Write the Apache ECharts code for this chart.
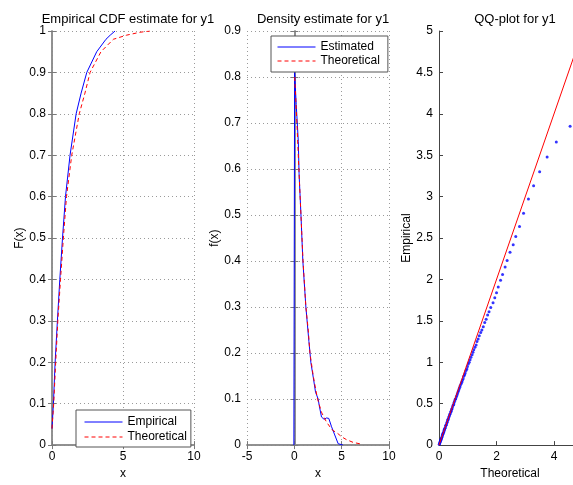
<!DOCTYPE html>
<html><head><meta charset="utf-8">
<script src="https://cdn.jsdelivr.net/npm/echarts@6/dist/echarts.min.js"></script>
<style>html,body{margin:0;padding:0;background:#fff}#c{width:573px;height:485px}</style>
</head><body><div id="c"></div>
<script>
// ---- Data ----
const cdfEmpX = [0.0, 0.1, 0.22, 0.38, 0.55, 0.74, 0.95, 1.27, 1.7, 2.05, 2.45, 3.15, 3.8, 4.1, 4.44];
const cdfEmpY = [0.04, 0.1, 0.2, 0.3, 0.4, 0.5, 0.6, 0.7, 0.8, 0.85, 0.9, 0.95, 0.98, 0.99, 1.0];
const cdfTheoX = [0.0, 0.12, 0.26, 0.41, 0.6, 0.8, 1.02, 1.39, 1.92, 2.32, 2.68, 3.45, 4.32, 5.26, 6.2, 6.9];
const cdfTheoY = [0.04, 0.1, 0.2, 0.3, 0.4, 0.5, 0.6, 0.7, 0.8, 0.85, 0.9, 0.95, 0.98, 0.99, 0.997, 1.0];

const denEstX = [-0.05, 0.03, 0.2, 0.42, 0.5, 0.7, 0.9, 1.22, 1.54, 1.75, 2.0, 2.24, 2.52, 2.63, 2.87, 3.15, 3.4, 3.64, 3.93, 4.27, 4.63, 5.15];
const denEstY = [0.0, 0.81, 0.74, 0.66, 0.59, 0.5, 0.4, 0.3, 0.225, 0.179, 0.147, 0.115, 0.1, 0.086, 0.061, 0.056, 0.059, 0.058, 0.04, 0.022, 0.003, 0.0];
const denTheoX = [0.04, 0.27, 0.48, 0.7, 0.92, 1.22, 1.47, 1.65, 2.0, 2.45, 2.9, 3.4, 4.0, 4.6, 5.0, 5.5, 6.2, 7.1];
const denTheoY = [0.8, 0.7, 0.6, 0.5, 0.4, 0.3, 0.25, 0.2, 0.15, 0.1, 0.07, 0.05, 0.033, 0.025, 0.018, 0.012, 0.006, 0.002];

const qqTheo = [0.01,0.02,0.03,0.04,0.05,0.06,0.07,0.08,0.09,0.11,0.12,0.13,0.14,0.15,0.17,0.18,0.19,0.20,0.22,0.23,
  0.24,0.26,0.27,0.29,0.30,0.31,0.33,0.34,0.36,0.37,0.39,0.41,0.42,0.44,0.45,0.47,0.49,0.51,0.52,0.54,
  0.56,0.58,0.60,0.62,0.64,0.66,0.68,0.70,0.72,0.74,0.77,0.79,0.81,0.84,0.86,0.89,0.91,0.94,0.97,0.99,
  1.02,1.05,1.08,1.11,1.15,1.18,1.21,1.25,1.29,1.32,1.36,1.40,1.45,1.49,1.54,1.59,1.64,1.69,1.74,1.80,
  1.88,1.94,2.00,2.06,2.14,2.21,2.30,2.37,2.47,2.58,2.67,2.80,2.94,3.11,3.29,3.50,3.76,4.08,4.56];
const qqEmp = [0.01,0.02,0.03,0.04,0.05,0.06,0.07,0.08,0.09,0.10,0.12,0.13,0.14,0.15,0.16,0.18,0.19,0.20,0.21,0.23,
  0.24,0.25,0.27,0.28,0.30,0.31,0.32,0.34,0.35,0.37,0.38,0.40,0.41,0.43,0.44,0.46,0.48,0.49,0.51,0.53,
  0.55,0.56,0.58,0.60,0.62,0.64,0.66,0.68,0.70,0.72,0.74,0.76,0.78,0.80,0.83,0.85,0.87,0.90,0.92,0.95,
  0.98,1.00,1.03,1.06,1.09,1.12,1.15,1.18,1.21,1.25,1.28,1.32,1.36,1.39,1.43,1.48,1.52,1.57,1.61,1.66,
  1.72,1.78,1.84,1.91,1.99,2.06,2.15,2.23,2.33,2.42,2.52,2.64,2.80,2.97,3.13,3.30,3.48,3.66,3.85];
const qqRefX = [0, 5];
const qqRefY = [0, 5];

const titles = ['Empirical CDF estimate for y1', 'Density estimate for y1', 'QQ-plot for y1'];

// ---- Chart ----
const zip = (a, b) => a.map((v, i) => [v, b[i]]);
const FONT = '"Liberation Sans", Arial, sans-serif';
const boxLine = { show: true, lineStyle: { color: '#8a8a8a', width: 1.5 } };
const tick = { show: true, inside: true, length: 4, lineStyle: { color: '#7a7a7a' } };
const gridLine = { show: true, lineStyle: { color: '#9a9a9a', type: [1, 3], width: 1 } };
const lbl = { color: '#000', fontSize: 12, fontFamily: FONT };
const nameStyle = { color: '#000', fontSize: 12, fontFamily: FONT };

function xMain(g, min, max, interval, name, split, line, tk) {
  return { type: 'value', gridIndex: g, min, max, interval, position: 'bottom',
    name, nameLocation: 'middle', nameGap: 22,
    nameTextStyle: g === 2 ? Object.assign({ padding: [0, 0, 0, 8] }, nameStyle) : nameStyle,
    axisLine: line, axisTick: tk, axisLabel: Object.assign({ margin: 6, showMaxLabel: g !== 2 }, lbl),
    splitLine: split ? gridLine : { show: false } };
}
function xTop(g, min, max, interval) {
  return { type: 'value', gridIndex: g, min, max, interval, position: 'top',
    axisLine: boxLine, axisTick: tick, axisLabel: { show: false }, splitLine: { show: false } };
}
function yMain(g, min, max, interval, name, gap, split, line, tk) {
  return { type: 'value', gridIndex: g, min, max, interval, position: 'left',
    name, nameLocation: 'middle', nameGap: gap, nameTextStyle: nameStyle,
    axisLine: line, axisTick: tk, axisLabel: Object.assign({ margin: 6 }, lbl),
    splitLine: split ? gridLine : { show: false } };
}
function yRight(g, min, max, interval) {
  return { type: 'value', gridIndex: g, min, max, interval, position: 'right',
    axisLine: boxLine, axisTick: tick, axisLabel: { show: false }, splitLine: { show: false } };
}

const qqLine = { show: true, lineStyle: { color: '#444', width: 1 } };
const qqTick = { show: true, inside: true, length: 4, lineStyle: { color: '#444' } };

const legendBase = {
  orient: 'vertical', backgroundColor: '#fff', borderColor: '#555', borderWidth: 1,
  itemWidth: 38, selectedMode: false,
  itemStyle: { opacity: 0 },
  lineStyle: { width: 1 },
  textStyle: { color: '#000', fontSize: 12, fontFamily: FONT }
};

const option = {
  animation: false,
  backgroundColor: '#fff',
  textStyle: { fontFamily: FONT },
  title: titles.map((t, i) => ({
    text: t, left: [123, 318, 510][i], top: 8, textAlign: 'center',
    textStyle: { color: '#000', fontSize: 13, fontWeight: 'normal', fontFamily: FONT }
  })),
  grid: [
    { left: 52, top: 31, width: 142, height: 421 },
    { left: 247, top: 31, width: 142, height: 421 },
    { left: 439, top: 31, right: 0, height: 421 }
  ],
  legend: [
    Object.assign({}, legendBase, { data: ['Empirical', 'Theoretical'], left: 76, top: 410,
      itemHeight: 14, itemGap: 3, padding: [6, 4, 4, 8] }),
    Object.assign({}, legendBase, { data: ['Estimated', 'Theoretical'], left: 271, top: 36,
      itemHeight: 12, itemGap: 2, padding: [5, 8, 5, 6] })
  ],
  xAxis: [
    xMain(0, 0, 10, 5, 'x', true, boxLine, tick),
    xTop(0, 0, 10, 5),
    xMain(1, -5, 10, 5, 'x', true, boxLine, tick),
    xTop(1, -5, 10, 5),
    xMain(2, 0, 4.66, 2, 'Theoretical', false, qqLine, qqTick)
  ],
  yAxis: [
    yMain(0, 0, 1, 0.1, 'F(x)', 26, true, boxLine, tick),
    yRight(0, 0, 1, 0.1),
    yMain(1, 0, 0.9, 0.1, 'f(x)', 26, true, boxLine, tick),
    yRight(1, 0, 0.9, 0.1),
    yMain(2, 0, 5, 0.5, 'Empirical', 26, false, qqLine, qqTick)
  ],
  series: [
    { name: 'Empirical', type: 'line', xAxisIndex: 0, yAxisIndex: 0, data: zip(cdfEmpX, cdfEmpY),
      showSymbol: false, symbol: 'none', lineStyle: { color: '#0000ff', width: 1 }, itemStyle: { color: '#0000ff' } },
    { name: 'Theoretical', type: 'line', xAxisIndex: 0, yAxisIndex: 0, data: zip(cdfTheoX, cdfTheoY),
      showSymbol: false, symbol: 'none', lineStyle: { color: '#ff0000', width: 1, type: [4, 3] }, itemStyle: { color: '#ff0000' } },
    { name: 'Estimated', type: 'line', xAxisIndex: 2, yAxisIndex: 2, data: zip(denEstX, denEstY),
      showSymbol: false, symbol: 'none', lineStyle: { color: '#0000ff', width: 1 }, itemStyle: { color: '#0000ff' } },
    { name: 'Theoretical', type: 'line', xAxisIndex: 2, yAxisIndex: 2, data: zip(denTheoX, denTheoY),
      showSymbol: false, symbol: 'none', lineStyle: { color: '#ff0000', width: 1, type: [4, 3] }, itemStyle: { color: '#ff0000' } },
    { name: 'qq', type: 'scatter', xAxisIndex: 4, yAxisIndex: 4, data: zip(qqTheo, qqEmp),
      symbol: 'circle', symbolSize: 3, itemStyle: { color: '#0000ff' } },
    { name: 'ref', type: 'line', xAxisIndex: 4, yAxisIndex: 4, data: zip(qqRefX, qqRefY),
      showSymbol: false, symbol: 'none', lineStyle: { color: '#ff0000', width: 1 } }
  ]
};
const chart = echarts.init(document.getElementById('c'), null, { renderer: 'canvas' });
chart.setOption(option);
</script>
</body></html>
